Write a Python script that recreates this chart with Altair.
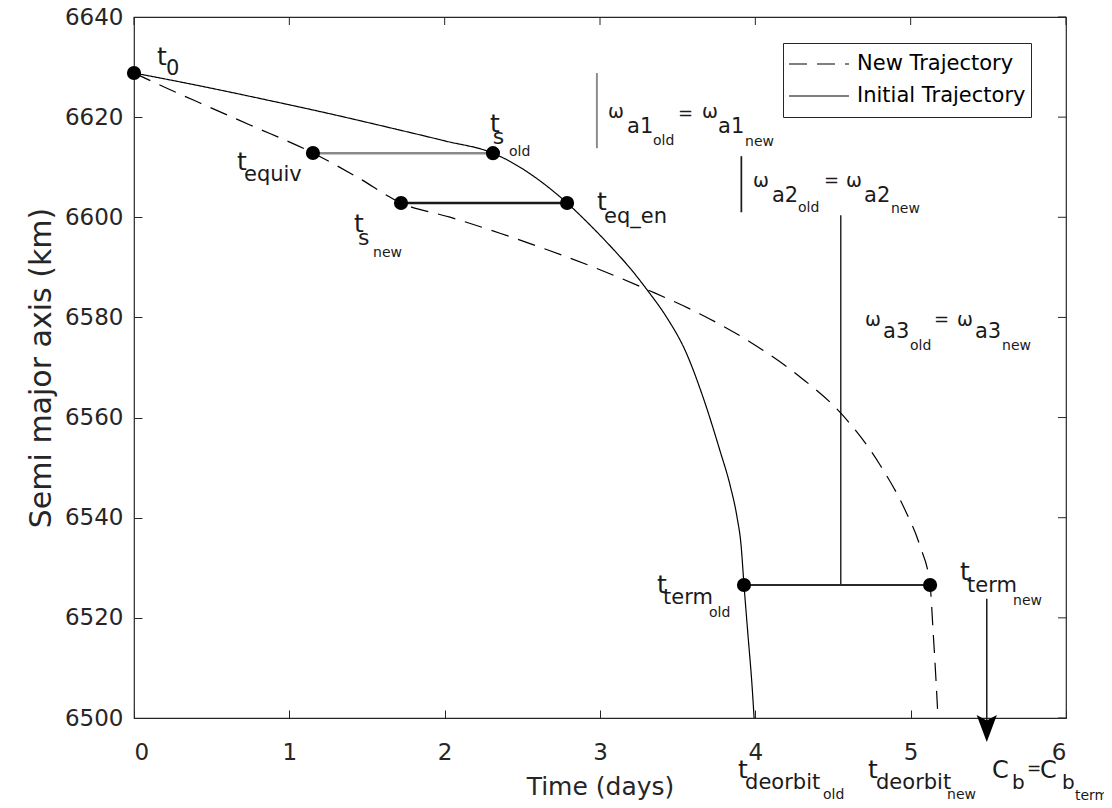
import altair as alt
import pandas as pd

# ---------------- data ----------------
# Initial (old) trajectory: time (days), semi major axis (km)
init_t = [0, 0.425, 0.830, 1.262, 1.693, 2.002, 2.311, 2.788, 2.936, 3.084, 3.193, 3.309,
          3.432, 3.547, 3.663, 3.773, 3.837, 3.882, 3.908, 3.927, 3.953, 3.979, 3.992]
init_a = [6628.82, 6626.24, 6623.6, 6620.67, 6617.55, 6615.25, 6612.8, 6602.85, 6598.45,
          6593.66, 6589.86, 6585.27, 6579.88, 6573.49, 6564.1, 6553.32, 6546.53, 6540.14,
          6534.55, 6526.56, 6516.4, 6506.39, 6500.0]
# New trajectory
new_t = [0, 0.187, 0.425, 0.747, 1.152, 1.436, 1.719, 2.034, 2.356, 2.678, 3.000, 3.309,
         3.644, 3.966, 4.288, 4.552, 4.803, 4.964, 5.060, 5.125, 5.144, 5.163, 5.176]
new_a = [6628.82, 6626.12, 6622.82, 6618.43, 6612.84, 6608.04, 6602.85, 6600.02, 6596.82,
         6593.32, 6589.53, 6585.48, 6580.70, 6575.11, 6568.12, 6560.83, 6550.53, 6541.54,
         6534.35, 6526.56, 6517.57, 6507.59, 6500.0]
series_names = ["New Trajectory", "Initial Trajectory"]

# Event points (t0, t_equiv, t_s_old, t_s_new, t_eq_en, t_term_old, t_term_new)
event_t = [0, 1.152, 2.311, 1.719, 2.788, 3.927, 5.125]
event_a = [6628.82, 6612.84, 6612.8, 6602.85, 6602.85, 6526.56, 6526.56]

# Horizontal connectors between equivalent points
conn_t1 = [1.152, 1.719, 3.927]
conn_t2 = [2.311, 2.788, 5.125]
conn_a = [6612.8, 6602.85, 6526.56]
conn_role = ["equiv", "energy", "term"]

# Vertical marker bars for omega equalities
bar_t = [2.98, 3.91, 4.55]
bar_a1 = [6613.8, 6601.0, 6526.56]
bar_a2 = [6628.8, 6612.2, 6600.4]
bar_role = ["a1", "a2", "a3"]

# Arrow pointing at C_b = C_b_term
arrow_t = [5.49]
arrow_top = [6523.8]
arrow_bottom = [6497.0]
arrow_head = [6497.9]

# Axis ticks
x_ticks = [0, 1, 2, 3, 4, 5, 6]
y_ticks = [6500, 6520, 6540, 6560, 6580, 6600, 6620, 6640]

# Annotation pieces (text with subscripts built from pieces)
lab_text = ["t", "0",
            "t", "s", "old",
            "t", "equiv",
            "t", "s", "new",
            "t", "eq_en",
            "ω", "a1", "old", "=", "ω", "a1", "new",
            "ω", "a2", "old", "=", "ω", "a2", "new",
            "ω", "a3", "old", "=", "ω", "a3", "new",
            "t", "term", "old",
            "t", "term", "new",
            "t", "deorbit", "old",
            "t", "deorbit", "new",
            "C", "b", "=", "C", "b", "term"]
lab_t = [0.148, 0.206,
         2.292, 2.310, 2.414,
         0.663, 0.708,
         1.416, 1.442, 1.539,
         2.981, 3.026,
         3.052, 3.174, 3.341, 3.502, 3.657, 3.760, 3.934,
         3.985, 4.107, 4.275, 4.442, 4.584, 4.700, 4.873,
         4.706, 4.822, 4.996, 5.150, 5.298, 5.414, 5.588,
         3.367, 3.406, 3.702,
         5.318, 5.363, 5.659,
         3.889, 3.934, 4.436,
         4.725, 4.777, 5.234,
         5.524, 5.652, 5.749, 5.833, 5.974, 6.058]
lab_a = [6630.4, 6628.4,
         6617.0, 6614.6, 6612.2,
         6609.45, 6607.25,
         6597.06, 6594.47, 6592.07,
         6601.46, 6598.86,
         6619.83, 6616.83, 6614.44, 6619.6, 6619.83, 6616.83, 6614.24,
         6606.05, 6603.06, 6601.06, 6606.2, 6606.05, 6603.06, 6600.86,
         6578.29, 6575.89, 6573.50, 6578.4, 6578.29, 6575.89, 6573.50,
         6524.97, 6522.78, 6520.18,
         6527.57, 6525.17, 6522.58,
         6488.0, 6485.8, 6483.8,
         6488.0, 6485.8, 6483.8,
         6488.0, 6485.8, 6488.8, 6488.0, 6485.8, 6483.6]
lab_size = [25, 21,
            25, 22, 14,
            25, 21,
            25, 22, 14,
            25, 21,
            19, 21, 14, 18, 19, 21, 14,
            19, 21, 14, 18, 19, 21, 14,
            19, 21, 14, 18, 19, 21, 14,
            25, 21, 14,
            25, 21, 14,
            25, 21, 14,
            25, 21, 14,
            24, 20, 17, 24, 20, 14]

# ---------------- tables ----------------
curves = pd.concat([
    pd.DataFrame({"t": new_t, "a": new_a, "series": series_names[0]}),
    pd.DataFrame({"t": init_t, "a": init_a, "series": series_names[1]}),
], ignore_index=True)
events = pd.DataFrame({"t": event_t, "a": event_a})
conns = pd.DataFrame({"t1": conn_t1, "t2": conn_t2, "a": conn_a, "role": conn_role})
bars = pd.DataFrame({"t": bar_t, "a1": bar_a1, "a2": bar_a2, "role": bar_role})
arrow = pd.DataFrame({"t": arrow_t, "top": arrow_top, "bottom": arrow_bottom, "head": arrow_head})
xt = pd.DataFrame({"tick": x_ticks})
yt = pd.DataFrame({"tick": y_ticks})
labels = pd.DataFrame({"text": lab_text, "t": lab_t, "a": lab_a, "size": lab_size})

FONT = "DejaVu Sans"
INK = "#262626"
W, H = 932, 701

xscale = alt.Scale(domain=[0, 6], nice=False, zero=False)
yscale = alt.Scale(domain=[6500, 6640], nice=False, zero=False)
xaxis = alt.Axis(values=x_ticks, title="Time (days)", offset=-8, tickSize=8, domain=False,
                 grid=False, labelPadding=23, titlePadding=10, format="d")
yaxis = alt.Axis(values=y_ticks, title="Semi major axis (km)", offset=-8, tickSize=8, domain=False,
                 grid=False, labelPadding=11, titlePadding=8, titleFontSize=30, format="d")


def X(f):
    return alt.X(f, type="quantitative", scale=xscale, axis=xaxis)


def Y(f):
    return alt.Y(f, type="quantitative", scale=yscale, axis=yaxis)


lines = alt.Chart(curves).mark_line(interpolate="monotone", color="black", strokeWidth=1.2).encode(
    x=X("t"), y=Y("a"),
    strokeDash=alt.StrokeDash(
        "series:N",
        scale=alt.Scale(domain=series_names, range=[[18, 10], [1, 0]]),
        legend=alt.Legend(orient="none", legendX=649, legendY=26, title=None,
                          strokeColor=INK, fillColor="white", padding=5,
                          symbolType="stroke", symbolSize=3600, symbolStrokeWidth=1.2,
                          symbolStrokeColor="black", labelFont=FONT, labelFontSize=21,
                          labelColor="black", labelLimit=400, clipHeight=32, labelOffset=7,
                          rowPadding=0),
    ),
)

conn_layer = alt.Chart(conns).mark_rule().encode(
    x=X("t1"), x2="t2", y=Y("a"),
    color=alt.Color("role:N", scale=alt.Scale(domain=conn_role, range=["#8a8a8a", "#1a1a1a", "#2a2a2a"]), legend=None),
    strokeWidth=alt.StrokeWidth("role:N", scale=alt.Scale(domain=conn_role, range=[2.6, 1.5, 1.7]), legend=None),
)

bar_layer = alt.Chart(bars).mark_rule().encode(
    x=X("t"), y=Y("a1"), y2="a2",
    color=alt.Color("role:N", scale=alt.Scale(domain=bar_role, range=["#1a1a1a", "#7a7a7a", "#2a2a2a"]), legend=None),
    strokeWidth=alt.StrokeWidth("role:N", scale=alt.Scale(domain=bar_role, range=[1.5, 2.0, 1.5]), legend=None),
)

arrow_line = alt.Chart(arrow).mark_rule(color="#1a1a1a", strokeWidth=1.5).encode(
    x=X("t"), y=Y("top"), y2="bottom")
arrow_tip = alt.Chart(arrow).mark_point(
    shape="M-0.75,-1L0,-0.6L0.75,-1L0,1Z", filled=True, color="black", size=729, opacity=1
).encode(x=X("t"), y=Y("head"))

dots = alt.Chart(events).mark_circle(color="black", size=200, opacity=1).encode(x=X("t"), y=Y("a"))

top_ticks = alt.Chart(xt).mark_rule(color=INK, strokeWidth=1).encode(
    x=X("tick"), y=alt.value(0), y2=alt.value(8))
right_ticks = alt.Chart(yt).mark_rule(color=INK, strokeWidth=1).encode(
    y=Y("tick"), x=alt.value(W - 8), x2=alt.value(W))

texts = alt.Chart(labels).mark_text(align="left", baseline="alphabetic", font=FONT, color="#1a1a1a").encode(
    x=X("t"), y=Y("a"), text="text:N",
    size=alt.Size("size:Q", scale=None, legend=None))

chart = alt.layer(
    top_ticks, right_ticks, conn_layer, bar_layer, lines, arrow_line, arrow_tip, dots, texts
).properties(
    width=W, height=H,
    padding={"left": 126, "top": 9, "right": 38, "bottom": 82},
    autosize=alt.AutoSizeParams(type="none"),
).configure(font=FONT).configure_view(
    stroke=INK, strokeWidth=1.2
).configure_axis(
    labelFont=FONT, labelFontSize=23, labelColor=INK, tickColor=INK, tickWidth=1,
    titleFont=FONT, titleFontSize=25, titleFontWeight="normal", titleColor=INK,
)

chart.save("out.html", embed_options={"renderer": "svg", "actions": False})
